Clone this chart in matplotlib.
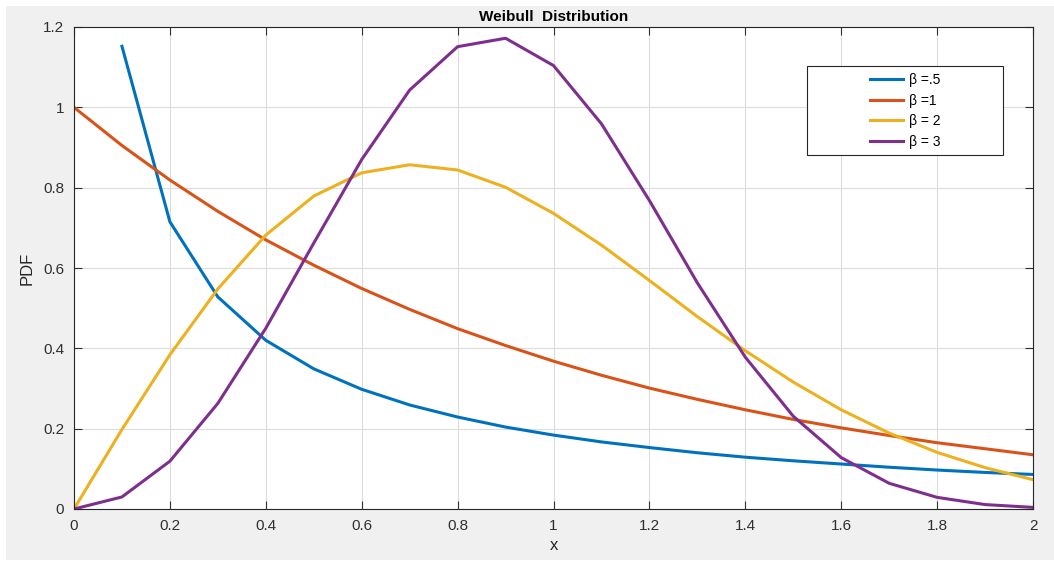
import matplotlib
matplotlib.use('Agg')
import matplotlib.pyplot as plt
from matplotlib.patches import Rectangle

x = [0.0, 0.1, 0.2, 0.3, 0.4, 0.5, 0.6, 0.7, 0.8, 0.9, 1.0,
     1.1, 1.2, 1.3, 1.4, 1.5, 1.6, 1.7, 1.8, 1.9, 2.0]

# beta = .5 is infinite at x = 0, so that curve starts at 0.1
x_half = x[1:]
pdf_half = [1.152, 0.715, 0.528, 0.420, 0.349, 0.298, 0.259, 0.229, 0.204, 0.184,
            0.167, 0.153, 0.140, 0.129, 0.120, 0.112, 0.104, 0.097, 0.091, 0.086]
pdf_one = [1.000, 0.905, 0.819, 0.741, 0.670, 0.607, 0.549, 0.497, 0.449, 0.407, 0.368,
           0.333, 0.301, 0.273, 0.247, 0.223, 0.202, 0.183, 0.165, 0.150, 0.135]
pdf_two = [0.000, 0.198, 0.384, 0.548, 0.682, 0.779, 0.837, 0.857, 0.844, 0.801, 0.736,
           0.657, 0.569, 0.479, 0.394, 0.316, 0.247, 0.189, 0.141, 0.103, 0.073]
pdf_three = [0.000, 0.030, 0.119, 0.263, 0.450, 0.662, 0.870, 1.043, 1.151, 1.172, 1.104,
             0.959, 0.768, 0.563, 0.378, 0.231, 0.128, 0.064, 0.029, 0.011, 0.004]

labels = ['\u03b2 =.5', '\u03b2 =1', '\u03b2 = 2', '\u03b2 = 3']
colors = ['#0072BD', '#D95319', '#EDB120', '#7E2F8E']
xticks = [0, 0.2, 0.4, 0.6, 0.8, 1, 1.2, 1.4, 1.6, 1.8, 2]
yticks = [0, 0.2, 0.4, 0.6, 0.8, 1, 1.2]

plt.rcParams['font.family'] = ['Liberation Sans', 'DejaVu Sans']

W, H = 1054, 563
fig = plt.figure(figsize=(W / 100, H / 100), dpi=100, facecolor='white')
fig.patches.append(Rectangle((6 / W, 3 / H), 1 - 6 / W, (557 - 3) / H,
                             transform=fig.transFigure, facecolor='#f0f0f0',
                             edgecolor='none', zorder=-10))

# axes box in pixels: left, top, right, bottom
L, T, R, B = 74, 27, 1033, 509
ax = fig.add_axes([L / W, 1 - B / H, (R - L) / W, (B - T) / H])
ax.set_facecolor('white')

series = [(x_half, pdf_half), (x, pdf_one), (x, pdf_two), (x, pdf_three)]
for (xs, ys), lab, c in zip(series, labels, colors):
    ax.plot(xs, ys, color=c, linewidth=2.2, label=lab)

ax.set_xlim(0, 2)
ax.set_ylim(0, 1.2)
ax.set_xticks(xticks)
ax.set_xticklabels(['0', '0.2', '0.4', '0.6', '0.8', '1', '1.2', '1.4', '1.6', '1.8', '2'])
ax.set_yticks(yticks)
ax.set_yticklabels(['0', '0.2', '0.4', '0.6', '0.8', '1', '1.2'])
ax.grid(True, color='#dcdcdc', linewidth=0.8)
ax.set_axisbelow(True)
ax.tick_params(direction='in', length=6, width=0.8, colors='#303030', labelsize=11,
               top=True, right=True, pad=7)
for s in ax.spines.values():
    s.set_color('#262626')
    s.set_linewidth(0.8)

ax.set_title('Weibull  Distribution', fontsize=11, fontweight='bold', color='black', pad=4)
ax.set_xlabel('x', fontsize=12, color='#262626', labelpad=4)
ax.set_ylabel('PDF', fontsize=12, color='#262626', labelpad=6)


def ax_frac(px, py):
    return (px - L) / (R - L), 1 - (py - T) / (B - T)


# wide legend box with the entries centred inside it
lx0, ly0 = ax_frac(807, 155)
lx1, ly1 = ax_frac(1003, 66)
ax.add_patch(Rectangle((lx0, ly0), lx1 - lx0, ly1 - ly0, transform=ax.transAxes,
                       facecolor='white', edgecolor='#262626', linewidth=0.8, zorder=4))
cx, cy = ax_frac(905, 111)
leg = ax.legend(loc='center', bbox_to_anchor=(cx, cy), fontsize=10, frameon=False,
                labelspacing=0.47, handlelength=2.4, handletextpad=0.4, borderpad=0,
                borderaxespad=0)
leg.set_zorder(5)

fig.savefig('out.png', dpi=100, facecolor=fig.get_facecolor())
